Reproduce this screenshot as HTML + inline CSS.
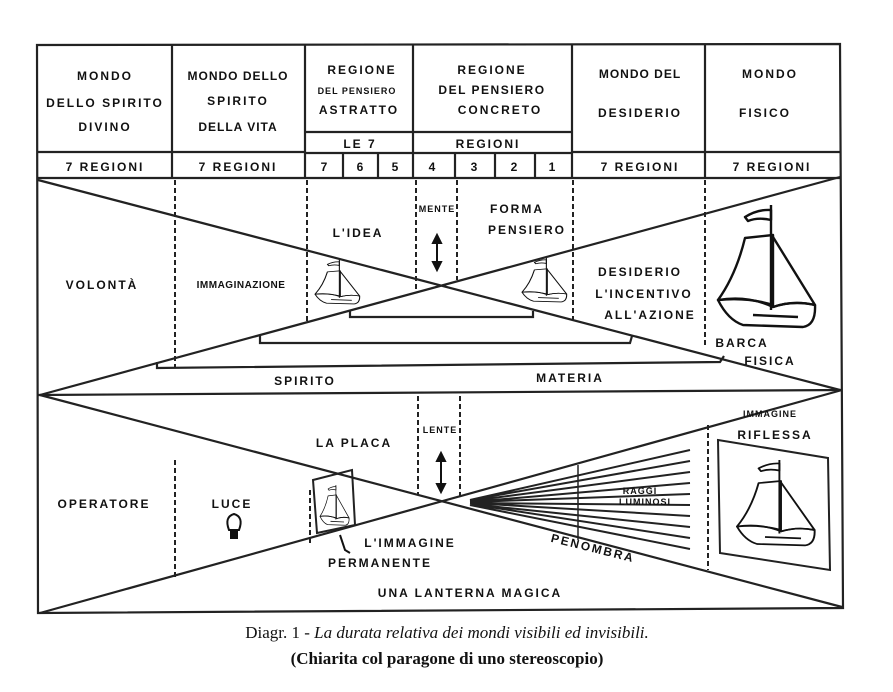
<!DOCTYPE html>
<html><head><meta charset="utf-8"><style>
html,body{margin:0;padding:0;background:#fff;}
svg{display:block;}
text{font-family:"Liberation Sans",sans-serif;font-weight:bold;fill:#111;}
.t{font-size:12px;letter-spacing:2px;}
.s{font-size:9px;letter-spacing:1px;}
.cap{font-family:"Liberation Serif",serif;font-weight:normal;font-size:17px;fill:#111;}
</style></head><body>
<svg width="893" height="692" viewBox="0 0 893 692">
<defs>
<g id="boat" fill="none" stroke="#111" stroke-width="2.4" stroke-linejoin="round">
<path d="M53,0 L53,105"/>
<path d="M27,12 Q40,4 53,5 L53,15 Q40,12 30,16 Z"/>
<path d="M27,33 L55,30 L55,100 Q30,92 0,95 Q18,70 27,33 Z"/>
<path d="M55,32 L97,100 Q75,95 55,102"/>
<path d="M0,95 Q30,90 55,102 Q75,95 97,100 Q98,120 85,122 L25,120 Q10,115 0,95 Z"/>
<path d="M35,110 L80,112"/>
</g>
</defs>
<g stroke="#222" stroke-width="2.2" fill="none">
<path d="M37,45 L840,44 L843,608 L38,613 Z"/>
<path d="M172,45 V178 M305,45 V178 M413,45 V178 M572,45 V178 M705,45 V178"/>
<path d="M37,152 H305 M572,152 H840 M305,132 H572 M305,153 H572 M37,178 H840"/>
<path d="M343,153 V178 M378,153 V178 M455,153 V178 M495,153 V178 M535,153 V178"/>
<path d="M38,395 L842,390"/>
<path d="M38,180 L840,390 M840,177 L40,395"/>
<path d="M40,395 L842,607 M842,390 L40,613"/>
<path d="M350,311 V317 H533 V311"/>
<path d="M260,336 V343 H630 L632,336"/>
<path d="M157,362 V368 L720,362 L724,356"/>
</g>
<g stroke="#222" stroke-width="2" stroke-dasharray="5,3" fill="none">
<path d="M175,180 V368 M307,180 V322 M416,180 V290 M457,180 V280 M573,180 V320 M705,180 V345"/>
<path d="M175,460 V578 M310,490 V545 M418,396 V495 M460,396 V500 M708,425 V570"/>
</g>
<path d="M578,465 V540" stroke="#222" stroke-width="1.5"/>
<g stroke="#111" stroke-width="2" fill="#111">
<path d="M437,237 V268" /><path d="M433,262 L437,270 L441,262 Z"/><path d="M433,243 L437,235 L441,243 Z"/>
<path d="M441,455 V490"/><path d="M437,484 L441,492 L445,484 Z"/><path d="M437,461 L441,453 L445,461 Z"/>
</g>
<g stroke="#222" stroke-width="2">
<path d="M470,500 L690,450 M470,500 L690,461 M470,501 L690,472 M470,502 L690,483 M470,502 L690,494 M470,503 L690,505 M470,503 L690,516 M470,504 L690,527 M470,504 L690,538 M470,505 L690,549"/>
</g>
<use href="#boat" transform="translate(718,205)"/>
<use href="#boat" transform="translate(315,260) scale(0.46,0.36)"/>
<use href="#boat" transform="translate(522,258) scale(0.46,0.36)"/>
<path d="M718,440 L828,458 L830,570 L720,553 Z" fill="none" stroke="#222" stroke-width="2"/>
<use href="#boat" transform="translate(737,460) scale(0.8,0.7)"/>
<path d="M313,480 L352,470 L355,525 L317,533 Z" fill="none" stroke="#222" stroke-width="2"/>
<use href="#boat" transform="translate(320,485) scale(0.3,0.33)"/>
<g fill="none" stroke="#111" stroke-width="2">
<path d="M229,530 Q224,517 234,514 Q244,517 239,530 Z"/>
<path d="M231,531 H237 V538 H231 Z" fill="#111"/>
<path d="M340,535 L345,550 L350,553" />
</g>
<g class="t" text-anchor="middle">
<text x="105" y="80">MONDO</text>
<text x="105" y="107">DELLO SPIRITO</text>
<text x="105" y="131">DIVINO</text>
<text x="238" y="80" letter-spacing="1">MONDO DELLO</text>
<text x="238" y="105">SPIRITO</text>
<text x="238" y="131" letter-spacing="1">DELLA VITA</text>
<text x="362" y="74">REGIONE</text>
<text x="357" y="94" class="s" font-size="10">DEL PENSIERO</text>
<text x="359" y="114">ASTRATTO</text>
<text x="492" y="74">REGIONE</text>
<text x="492" y="94" letter-spacing="1.5">DEL PENSIERO</text>
<text x="500" y="114">CONCRETO</text>
<text x="640" y="78" letter-spacing="1">MONDO DEL</text>
<text x="640" y="117">DESIDERIO</text>
<text x="770" y="78">MONDO</text>
<text x="765" y="117">FISICO</text>
<text x="360" y="148">LE 7</text>
<text x="488" y="148">REGIONI</text>
<text x="105" y="171">7 REGIONI</text>
<text x="238" y="171">7 REGIONI</text>
<text x="325" y="171">7</text><text x="361" y="171">6</text><text x="396" y="171">5</text>
<text x="433" y="171">4</text><text x="475" y="171">3</text><text x="515" y="171">2</text><text x="553" y="171">1</text>
<text x="640" y="171">7 REGIONI</text>
<text x="772" y="171">7 REGIONI</text>
</g>
<g class="t" text-anchor="middle">
<text x="102" y="289">VOLONTÀ</text>
<text x="241" y="288" font-size="10" letter-spacing="0.5">IMMAGINAZIONE</text>
<text x="358" y="237">L'IDEA</text>
<text x="437" y="212" class="s" letter-spacing="0">MENTE</text>
<text x="517" y="213">FORMA</text>
<text x="527" y="234">PENSIERO</text>
<text x="640" y="276">DESIDERIO</text>
<text x="644" y="298">L'INCENTIVO</text>
<text x="650" y="319">ALL'AZIONE</text>
<text x="742" y="347">BARCA</text>
<text x="770" y="365">FISICA</text>
<text x="305" y="385">SPIRITO</text>
<text x="570" y="382">MATERIA</text>
<text x="104" y="508">OPERATORE</text>
<text x="232" y="508">LUCE</text>
<text x="354" y="447">LA PLACA</text>
<text x="440" y="433" class="s" letter-spacing="0">LENTE</text>
<text x="410" y="547">L'IMMAGINE</text>
<text x="380" y="567">PERMANENTE</text>
<text x="592" y="552" transform="rotate(14 592 552)">PENOMBRA</text>
<text x="470" y="597">UNA LANTERNA MAGICA</text>
<text x="770" y="417" class="s">IMMAGINE</text>
<text x="775" y="439">RIFLESSA</text>
<text x="640" y="494" class="s" font-size="7">RAGGI</text>
<text x="645" y="505" class="s" font-size="7">LUMINOSI</text>
</g>
<text class="cap" x="447" y="638" text-anchor="middle">Diagr. 1 - <tspan font-style="italic">La durata relativa dei mondi visibili ed invisibili.</tspan></text>
<text class="cap" x="447" y="664" text-anchor="middle" style="font-weight:bold">(Chiarita col paragone di uno stereoscopio)</text>
</svg>
</body></html>
